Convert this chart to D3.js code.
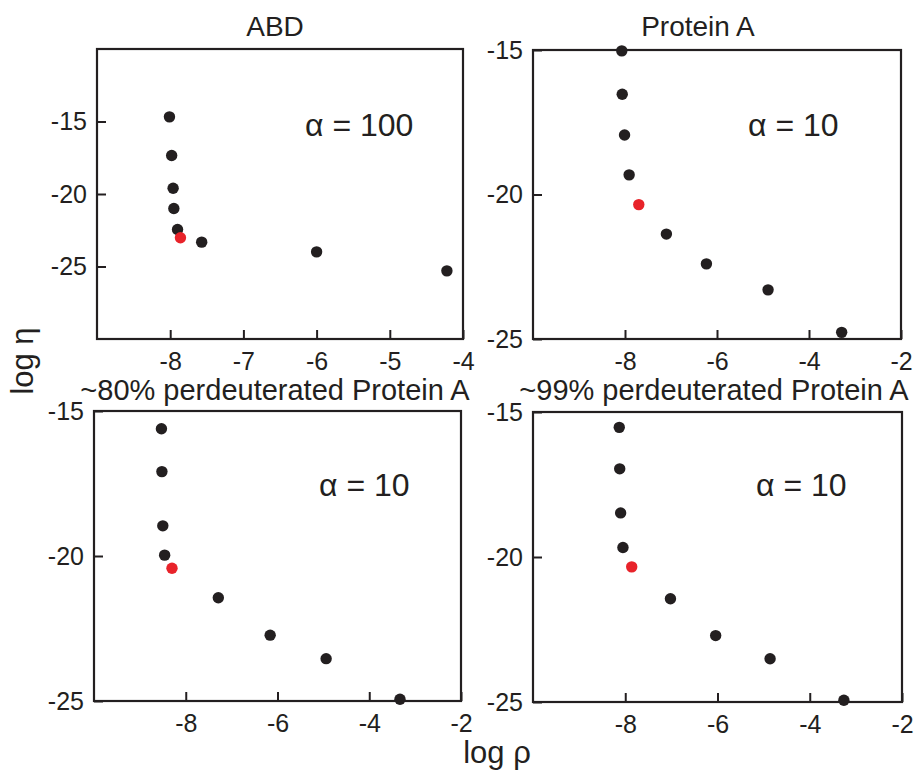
<!DOCTYPE html>
<html>
<head>
<meta charset="utf-8">
<script src="https://cdn.jsdelivr.net/npm/d3@7"></script>
<style>
  body { margin: 0; background: #fff; }
  svg text { font-family: "Liberation Sans", Arial, Helvetica, sans-serif; fill: #231f20; }
</style>
</head>
<body>
<svg id="chart" width="917" height="776"></svg>
<script>
// values: log rho (x) and log eta (y), the red dot is the chosen corner
const titles = ["ABD", "Protein A", "~80% perdeuterated Protein A", "~99% perdeuterated Protein A"];
const alphaLabels = ["\u03B1 = 100", "\u03B1 = 10", "\u03B1 = 10", "\u03B1 = 10"];

const abdRho = [-8.01, -7.98, -7.96, -7.95, -7.90, -7.86, -7.57, -6.00, -4.22];
const abdEta = [-14.68, -17.34, -19.60, -21.00, -22.45, -23.02, -23.32, -23.99, -25.30];

const protARho = [-8.07, -8.06, -8.01, -7.91, -7.70, -7.10, -6.23, -4.89, -3.29];
const protAEta = [-15.03, -16.53, -17.94, -19.32, -20.35, -21.37, -22.40, -23.30, -24.77];

const d80Rho = [-8.53, -8.52, -8.50, -8.46, -8.30, -7.29, -6.16, -4.94, -3.33];
const d80Eta = [-15.61, -17.09, -18.96, -19.97, -20.42, -21.44, -22.73, -23.54, -24.94];

const d99Rho = [-8.13, -8.12, -8.10, -8.05, -7.86, -7.02, -6.04, -4.86, -3.26];
const d99Eta = [-15.53, -16.96, -18.48, -19.67, -20.34, -21.44, -22.71, -23.51, -24.94];

const cornerIndex = [5, 4, 4, 4];

const xTicksAbd = [-8, -7, -6, -5, -4];
const xTicksProt = [-8, -6, -4, -2];
const yTicks = [-15, -20, -25];

const svg = d3.select("#chart");
const ink = "#231f20";

// panel boxes and domains
const panels = [
  { rho: abdRho, eta: abdEta, box: [97, 49, 463, 339], xd: [-9, -4], yd: [-30, -10], xt: xTicksAbd,
    title: [275, 36], alpha: [305, 136] },
  { rho: protARho, eta: protAEta, box: [533, 50, 901, 339], xd: [-10, -2], yd: [-25, -15], xt: xTicksProt,
    title: [698, 36], alpha: [748, 136] },
  { rho: d80Rho, eta: d80Eta, box: [94, 411, 461, 701], xd: [-10, -2], yd: [-25, -15], xt: xTicksProt,
    title: [275, 400], alpha: [319, 496] },
  { rho: d99Rho, eta: d99Eta, box: [533, 412, 902, 702], xd: [-10, -2], yd: [-25, -15], xt: xTicksProt,
    title: [714, 400], alpha: [756, 496] }
];

const plainNum = d => String(d); // hyphen minus like the original, not the unicode one

panels.forEach(function(p, i) {
  const [l, t, r, b] = p.box;
  const x = d3.scaleLinear().domain(p.xd).range([l, r]);
  const y = d3.scaleLinear().domain(p.yd).range([b, t]);
  const g = svg.append("g");

  // bottom + left axes, ticks pointing inward
  const xa = g.append("g").attr("transform", "translate(0," + b + ")")
    .call(d3.axisBottom(x).tickValues(p.xt).tickSizeInner(-9).tickSizeOuter(0).tickPadding(13).tickFormat(plainNum));
  const ya = g.append("g").attr("transform", "translate(" + l + ",0)")
    .call(d3.axisLeft(y).tickValues(yTicks).tickSizeInner(-9).tickSizeOuter(0).tickPadding(10).tickFormat(plainNum));
  [xa, ya].forEach(function(a) {
    a.select(".domain").remove();
    a.selectAll("line").attr("stroke", ink).attr("stroke-width", 2);
    a.selectAll("text").attr("font-size", 25).attr("fill", ink)
      .attr("font-family", "Liberation Sans, Arial, sans-serif");
  });
  xa.selectAll("text").attr("dy", "0.71em");

  g.append("rect").attr("x", l).attr("y", t).attr("width", r - l).attr("height", b - t)
    .attr("fill", "none").attr("stroke", ink).attr("stroke-width", 2.2);

  const pts = p.rho.map(function(v, k) { return { x: v, y: p.eta[k], red: k === cornerIndex[i] }; });
  g.selectAll("circle").data(pts).enter().append("circle")
    .attr("cx", d => x(d.x)).attr("cy", d => y(d.y)).attr("r", 5.7)
    .attr("fill", d => d.red ? "#e8232a" : ink);

  g.append("text").attr("x", p.title[0]).attr("y", p.title[1]).attr("text-anchor", "middle")
    .attr("font-size", i < 2 ? 28 : 29).text(titles[i]);
  g.append("text").attr("x", p.alpha[0]).attr("y", p.alpha[1]).attr("font-size", 32).text(alphaLabels[i]);
});

svg.append("text").attr("transform", "translate(33,361) rotate(-90)").attr("text-anchor", "middle")
  .attr("font-size", 31).text("log \u03B7");
svg.append("text").attr("x", 497).attr("y", 763).attr("text-anchor", "middle")
  .attr("font-size", 31).text("log \u03C1");
</script>
</body>
</html>
